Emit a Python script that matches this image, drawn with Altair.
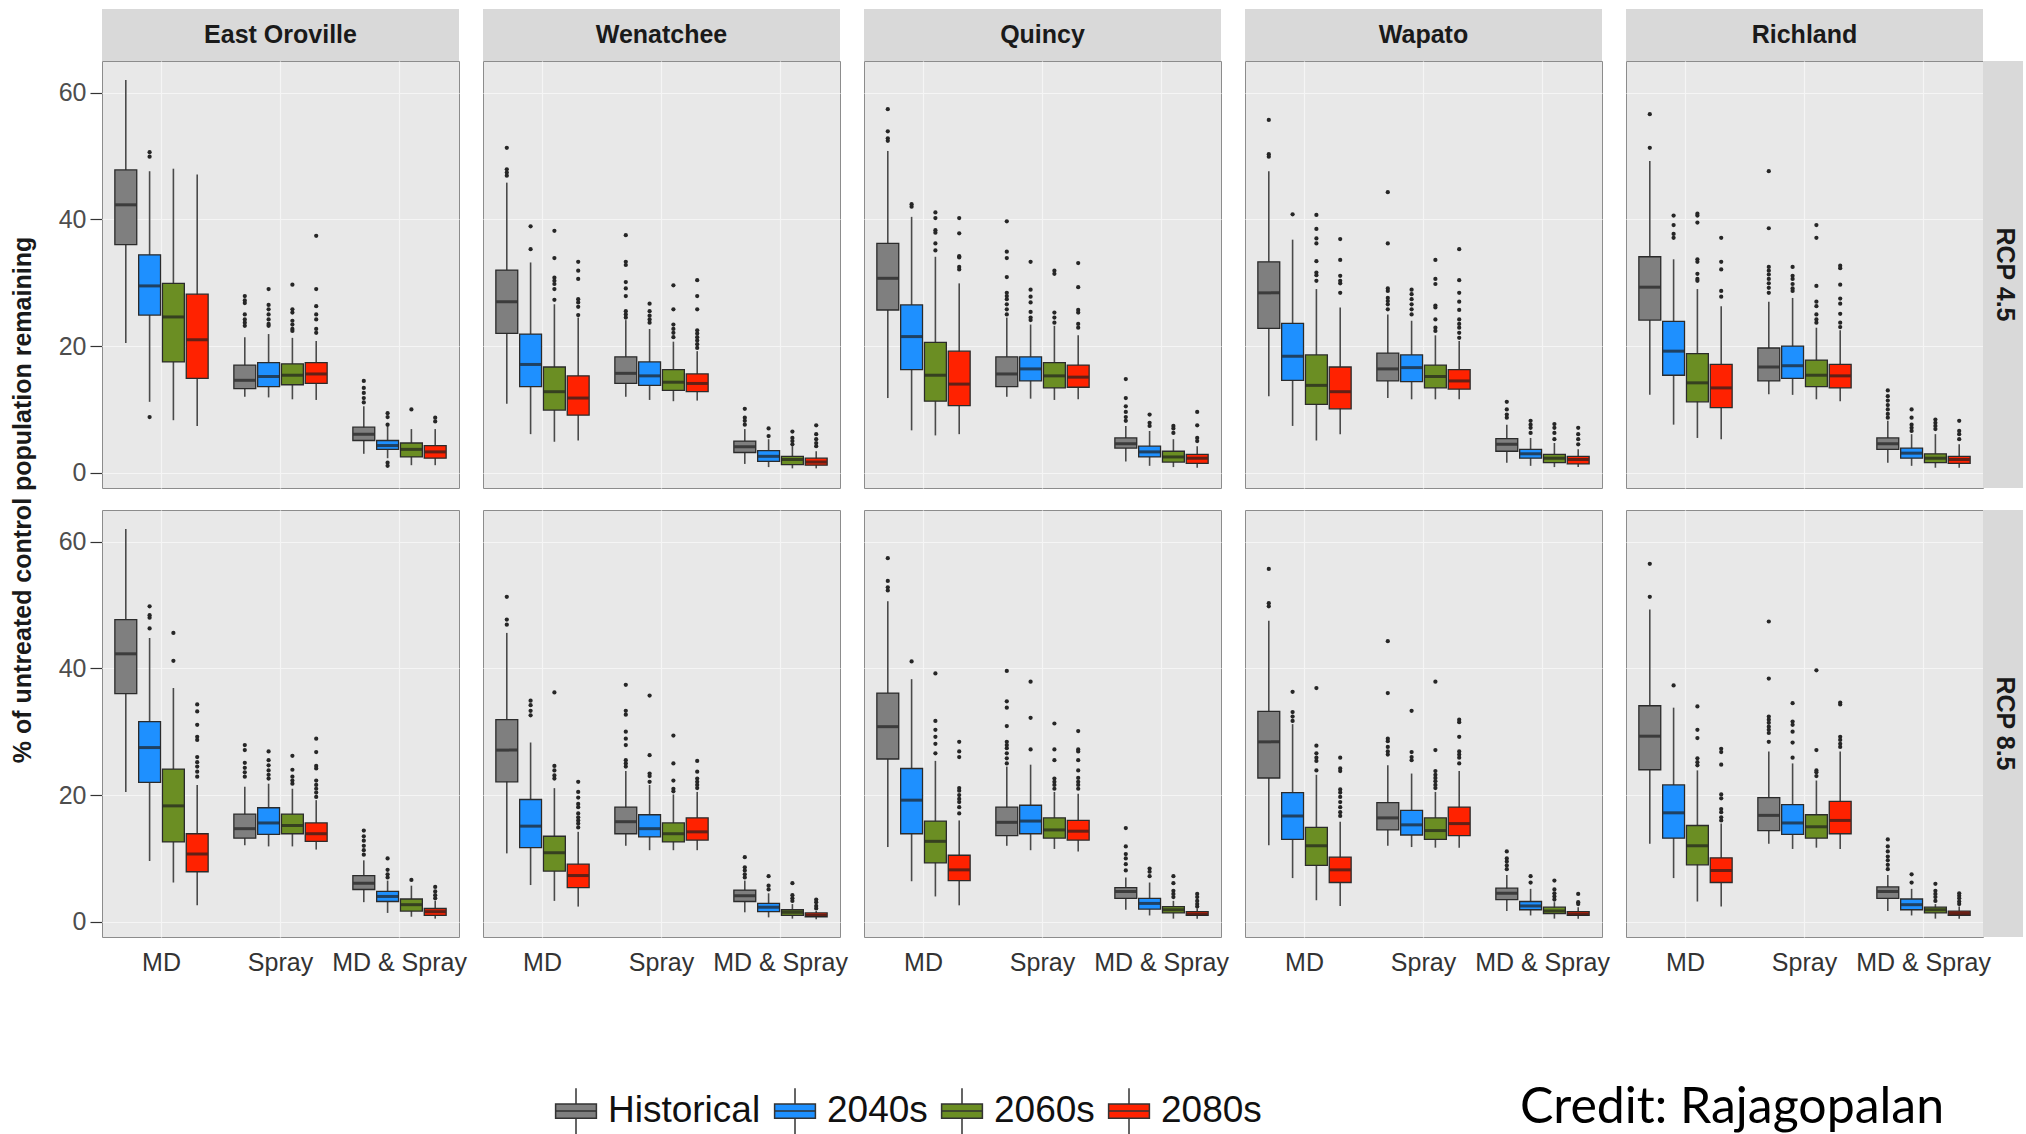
import altair as alt
import pandas as pd

SITES = ["East Oroville", "Wenatchee", "Quincy", "Wapato", "Richland"]
SCENARIOS = ["RCP 4.5", "RCP 8.5"]
TREATMENTS = ["MD", "Spray", "MD & Spray"]
PERIODS = ["Historical", "2040s", "2060s", "2080s"]
COLORS = ["#7f7f7f", "#1e90ff", "#6b8e23", "#ff2200"]

# Box statistics, 12 boxes per panel: MD(Hist,2040s,2060s,2080s), Spray(...), MD & Spray(...)
STATS = {
    ("RCP 4.5", "East Oroville"): {
        "lo":  [20.5, 11.2, 8.3, 7.4, 12.0, 11.9, 11.6, 11.5, 3.0, 2.3, 1.2, 1.2],
        "q1":  [36.0, 24.9, 17.5, 14.9, 13.3, 13.6, 13.9, 14.1, 5.1, 3.7, 2.5, 2.3],
        "med": [42.3, 29.5, 24.6, 21.0, 14.6, 15.2, 15.4, 15.6, 6.1, 4.3, 3.7, 3.3],
        "q3":  [47.8, 34.4, 29.9, 28.2, 17.0, 17.4, 17.2, 17.4, 7.2, 5.1, 4.7, 4.3],
        "hi":  [62.0, 47.6, 48.0, 47.1, 21.4, 21.9, 21.3, 20.8, 10.5, 7.4, 6.9, 6.9],
    },
    ("RCP 4.5", "Wenatchee"): {
        "lo":  [10.9, 6.1, 4.9, 5.1, 12.0, 11.5, 11.3, 11.4, 1.4, 0.9, 0.7, 0.7],
        "q1":  [22.0, 13.6, 9.9, 9.1, 14.1, 13.8, 13.0, 12.8, 3.2, 1.8, 1.3, 1.2],
        "med": [27.0, 17.1, 12.8, 11.8, 15.7, 15.3, 14.3, 14.1, 4.1, 2.6, 2.1, 1.7],
        "q3":  [32.0, 21.9, 16.7, 15.3, 18.3, 17.5, 16.3, 15.6, 5.0, 3.5, 2.6, 2.3],
        "hi":  [45.8, 33.2, 26.6, 24.5, 24.1, 22.7, 20.7, 19.2, 6.9, 5.3, 4.2, 3.4],
    },
    ("RCP 4.5", "Quincy"): {
        "lo":  [11.8, 6.7, 5.9, 6.1, 12.0, 11.7, 11.5, 11.6, 1.8, 1.1, 0.9, 0.8],
        "q1":  [25.7, 16.3, 11.3, 10.6, 13.6, 14.5, 13.4, 13.5, 3.9, 2.5, 1.7, 1.5],
        "med": [30.7, 21.5, 15.4, 14.0, 15.6, 16.4, 15.3, 15.1, 4.6, 3.3, 2.5, 2.3],
        "q3":  [36.2, 26.5, 20.6, 19.2, 18.3, 18.3, 17.4, 17.0, 5.5, 4.2, 3.4, 2.9],
        "hi":  [50.8, 40.4, 34.1, 29.9, 24.5, 23.4, 23.2, 21.7, 7.4, 6.6, 5.3, 4.2],
    },
    ("RCP 4.5", "Wapato"): {
        "lo":  [12.1, 7.4, 5.1, 6.1, 11.8, 11.6, 11.6, 11.6, 1.6, 1.1, 0.9, 0.9],
        "q1":  [22.8, 14.6, 10.8, 10.1, 14.5, 14.4, 13.4, 13.2, 3.4, 2.3, 1.6, 1.4],
        "med": [28.4, 18.4, 13.8, 12.8, 16.4, 16.6, 15.2, 14.5, 4.5, 3.0, 2.3, 2.1],
        "q3":  [33.3, 23.6, 18.6, 16.7, 18.9, 18.6, 17.0, 16.3, 5.4, 3.7, 2.9, 2.6],
        "hi":  [47.6, 36.8, 29.0, 26.1, 25.0, 24.0, 21.7, 20.8, 7.6, 5.5, 4.7, 3.7],
    },
    ("RCP 4.5", "Richland"): {
        "lo":  [12.3, 7.6, 5.5, 5.3, 12.4, 12.3, 11.6, 11.3, 1.6, 1.1, 0.8, 0.8],
        "q1":  [24.1, 15.4, 11.2, 10.3, 14.5, 14.9, 13.6, 13.4, 3.7, 2.3, 1.6, 1.5],
        "med": [29.3, 19.2, 14.2, 13.4, 16.7, 16.9, 15.4, 15.3, 4.6, 3.1, 2.3, 2.1],
        "q3":  [34.1, 23.9, 18.8, 17.1, 19.7, 20.0, 17.8, 17.1, 5.5, 3.9, 3.0, 2.6],
        "hi":  [49.2, 33.7, 29.0, 26.3, 27.0, 27.6, 22.9, 22.5, 8.2, 6.1, 6.1, 4.5],
    },
    ("RCP 8.5", "East Oroville"): {
        "lo":  [20.5, 9.6, 6.2, 2.6, 12.1, 11.9, 11.9, 11.4, 3.1, 1.4, 0.8, 0.5],
        "q1":  [36.0, 22.0, 12.6, 7.9, 13.2, 13.8, 13.9, 12.7, 5.1, 3.2, 1.7, 1.0],
        "med": [42.3, 27.5, 18.3, 10.7, 14.7, 15.6, 15.2, 13.9, 6.1, 4.0, 2.7, 1.6],
        "q3":  [47.7, 31.6, 24.1, 13.9, 17.0, 18.0, 17.0, 15.6, 7.3, 4.8, 3.6, 2.1],
        "hi":  [62.0, 44.8, 36.9, 21.6, 21.3, 21.8, 21.0, 19.2, 9.7, 6.5, 5.7, 3.3],
    },
    ("RCP 8.5", "Wenatchee"): {
        "lo":  [10.8, 5.8, 3.3, 2.4, 12.0, 11.3, 11.3, 11.3, 1.5, 0.7, 0.5, 0.4],
        "q1":  [22.1, 11.7, 8.0, 5.4, 13.9, 13.4, 12.6, 12.9, 3.2, 1.6, 1.0, 0.8],
        "med": [27.1, 15.1, 10.9, 7.3, 15.8, 14.7, 13.9, 14.2, 4.1, 2.3, 1.5, 1.0],
        "q3":  [31.9, 19.3, 13.5, 9.1, 18.1, 16.9, 15.6, 16.4, 5.0, 2.9, 1.9, 1.4],
        "hi":  [45.6, 28.3, 21.1, 14.2, 23.8, 21.6, 20.1, 20.5, 6.5, 4.5, 2.8, 1.7],
    },
    ("RCP 8.5", "Quincy"): {
        "lo":  [11.8, 6.4, 4.0, 2.6, 12.0, 11.3, 11.5, 11.1, 1.9, 1.0, 0.5, 0.5],
        "q1":  [25.7, 13.9, 9.3, 6.5, 13.6, 13.9, 13.2, 12.9, 3.7, 2.0, 1.4, 1.0],
        "med": [30.8, 19.2, 12.7, 8.2, 15.7, 15.9, 14.5, 14.3, 4.8, 2.9, 1.9, 1.2],
        "q3":  [36.1, 24.2, 15.9, 10.5, 18.1, 18.4, 16.4, 16.0, 5.4, 3.7, 2.4, 1.6],
        "hi":  [50.6, 38.3, 25.4, 16.0, 24.5, 24.8, 20.5, 20.2, 7.0, 6.2, 3.3, 2.1],
    },
    ("RCP 8.5", "Wapato"): {
        "lo":  [12.1, 6.9, 3.4, 2.5, 12.0, 11.8, 11.7, 11.7, 1.7, 1.0, 0.5, 0.5],
        "q1":  [22.7, 13.0, 8.9, 6.2, 14.5, 13.7, 13.0, 13.6, 3.5, 1.9, 1.3, 1.0],
        "med": [28.4, 16.7, 12.0, 8.2, 16.4, 15.3, 14.4, 15.5, 4.5, 2.5, 1.7, 1.2],
        "q3":  [33.2, 20.4, 14.9, 10.2, 18.8, 17.6, 16.4, 18.1, 5.3, 3.2, 2.3, 1.6],
        "hi":  [47.5, 31.2, 23.2, 15.8, 24.7, 23.4, 20.5, 23.8, 7.4, 5.2, 3.1, 2.3],
    },
    ("RCP 8.5", "Richland"): {
        "lo":  [12.3, 6.9, 3.2, 2.4, 12.3, 11.5, 11.7, 11.5, 1.7, 1.0, 0.5, 0.5],
        "q1":  [24.0, 13.2, 9.0, 6.2, 14.4, 13.8, 13.2, 13.9, 3.7, 1.9, 1.4, 1.0],
        "med": [29.3, 17.2, 12.0, 8.1, 16.8, 15.6, 15.0, 16.0, 4.8, 2.7, 1.9, 1.3],
        "q3":  [34.1, 21.6, 15.2, 10.1, 19.6, 18.5, 16.9, 19.0, 5.5, 3.6, 2.3, 1.7],
        "hi":  [49.3, 33.8, 23.9, 15.5, 26.9, 25.0, 22.3, 26.9, 7.4, 5.2, 2.8, 2.4],
    },
}

OUTLIERS = {
    ("RCP 4.5", "East Oroville"): [
        [], [50.6, 49.9, 8.8], [], [],
        [27.9, 27.2, 26.8, 25.0, 24.2, 23.7, 23.2],
        [29.0, 26.5, 25.8, 25.0, 24.2, 23.5, 23.2],
        [29.7, 25.8, 25.3, 24.0, 23.4, 22.7, 22.4],
        [37.4, 29.0, 26.3, 25.0, 24.2, 22.7, 22.1],
        [14.5, 13.4, 12.6, 11.8, 11.1], [9.4, 8.8, 7.6, 1.6, 1.1], [10.0], [8.7, 8.1],
    ],
    ("RCP 4.5", "Wenatchee"): [
        [51.3, 47.9, 47.4, 46.9], [38.9, 35.3],
        [38.2, 33.9, 30.8, 30.3, 29.8, 29.0, 27.3],
        [33.3, 31.9, 30.6, 27.4, 26.9, 26.2, 24.9],
        [37.5, 33.3, 32.8, 30.1, 29.1, 27.9, 25.5, 25.0, 24.5],
        [26.7, 25.5, 24.8, 24.2, 23.7],
        [29.6, 25.8, 23.4, 22.7, 22.1, 21.4],
        [30.4, 27.9, 25.8, 22.5, 22.0, 21.4, 20.9, 20.3, 19.7],
        [10.1, 8.7, 8.2, 7.6], [7.0, 5.8], [6.5, 5.5, 5.0, 4.5], [7.5, 6.1, 5.3, 4.7, 4.2],
    ],
    ("RCP 4.5", "Quincy"): [
        [57.4, 53.9, 52.8, 52.4], [42.4, 42.0],
        [41.1, 40.2, 38.3, 37.9, 36.2, 35.1],
        [40.2, 37.8, 34.2, 34.0, 32.5, 32.1],
        [39.7, 34.9, 33.9, 30.9, 28.4, 27.9, 27.4, 26.6, 25.8, 25.0],
        [33.3, 28.9, 27.8, 26.9, 25.4, 24.5, 24.1],
        [31.9, 31.4, 25.3, 24.5, 23.7],
        [33.1, 29.3, 25.7, 25.3, 23.5, 22.9],
        [14.8, 11.8, 10.5, 9.6, 8.8, 8.2], [9.2, 7.9, 7.4], [7.4, 7.0, 6.3], [9.6, 7.5, 5.5, 5.0],
    ],
    ("RCP 4.5", "Wapato"): [
        [55.7, 50.3, 49.9], [40.8],
        [40.7, 38.5, 37.0, 36.2, 33.4, 31.6, 31.2, 30.3],
        [36.9, 33.6, 31.1, 30.3, 29.9, 28.4],
        [44.3, 36.2, 29.1, 28.7, 27.6, 27.1, 26.6, 25.8],
        [28.9, 28.2, 27.4, 26.6, 25.8, 25.0],
        [33.6, 30.6, 29.8, 26.4, 26.1, 24.2, 22.9, 22.4],
        [35.3, 30.4, 28.4, 27.0, 25.7, 24.2, 23.5, 22.9, 22.1, 21.3],
        [11.2, 10.0, 9.2, 8.7], [8.2, 7.6, 7.1, 6.3], [7.7, 7.1, 6.3, 5.3], [7.1, 6.1, 5.3, 4.5],
    ],
    ("RCP 4.5", "Richland"): [
        [56.6, 51.3], [40.6, 39.1, 37.7, 37.1],
        [40.9, 40.6, 39.5, 33.7, 33.3, 31.4, 30.6, 30.3],
        [37.1, 33.3, 32.1, 28.7, 27.8],
        [47.6, 38.6, 32.5, 31.9, 31.3, 30.6, 29.9, 29.2, 28.4],
        [32.5, 31.1, 30.6, 29.8, 29.1, 28.7],
        [39.1, 37.1, 29.5, 27.0, 26.3, 25.0, 24.2, 23.7],
        [32.7, 32.3, 29.7, 27.5, 26.7, 25.1, 23.7, 23.0],
        [13.0, 12.1, 11.4, 10.7, 10.0, 9.3, 8.7], [10.0, 8.7, 7.6, 7.1, 6.6],
        [8.4, 7.9, 7.4, 6.9], [8.2, 6.6, 6.1, 5.3],
    ],
    ("RCP 8.5", "East Oroville"): [
        [], [49.8, 48.4, 48.0, 46.3], [45.6, 41.2],
        [34.3, 33.2, 31.1, 29.2, 28.7, 26.0, 25.2, 24.5, 23.7, 22.9],
        [27.9, 27.1, 25.1, 24.3, 23.6, 22.9],
        [26.9, 25.5, 24.7, 23.9, 23.2, 22.6],
        [26.2, 24.0, 22.9, 22.3, 21.8],
        [28.9, 26.8, 24.6, 24.2, 22.3, 21.6, 21.0, 20.4, 19.7],
        [14.4, 13.5, 12.8, 12.0, 11.3, 10.6], [10.0, 8.2, 7.5, 7.0], [6.6], [5.5, 4.8, 4.2, 3.7],
    ],
    ("RCP 8.5", "Wenatchee"): [
        [51.3, 47.7, 46.9], [34.9, 34.2, 33.3, 32.6],
        [36.2, 24.6, 23.9, 23.1, 22.6],
        [22.1, 20.5, 19.6, 18.6, 18.1, 17.1, 16.5, 16.0, 15.5, 14.9],
        [37.4, 33.3, 32.7, 30.0, 28.9, 27.9, 25.5, 25.0, 24.5],
        [35.7, 26.3, 23.4, 23.0, 22.1],
        [29.4, 25.0, 22.3, 21.0, 20.6],
        [25.4, 23.7, 22.6, 22.1, 21.6, 21.1],
        [10.2, 8.6, 8.1, 7.5, 7.0], [7.2, 5.7, 5.1], [6.1, 4.2, 3.7, 3.3], [3.5, 3.1, 2.5, 2.1],
    ],
    ("RCP 8.5", "Quincy"): [
        [57.4, 53.8, 52.8, 52.3], [41.1],
        [39.2, 31.7, 30.3, 29.2, 28.1, 26.6],
        [28.4, 26.9, 26.0, 21.1, 20.7, 20.0, 19.4, 18.9, 18.1, 17.1],
        [39.6, 34.8, 33.8, 30.9, 28.4, 27.9, 27.4, 26.6, 25.8, 25.0],
        [37.9, 32.2, 27.2],
        [31.3, 27.2, 25.5, 22.6, 22.1, 21.6, 21.0],
        [30.1, 27.2, 26.9, 25.5, 23.9, 22.7, 22.1, 21.6, 21.0],
        [14.8, 11.9, 10.7, 10.0, 9.1, 8.1], [8.4, 7.9, 7.2], [7.2, 6.1, 4.9, 4.4, 3.9],
        [4.4, 3.9, 3.3, 2.8, 2.4],
    ],
    ("RCP 8.5", "Wapato"): [
        [55.7, 50.3, 49.8], [36.3, 33.1, 32.4, 31.7],
        [36.9, 27.8, 26.6, 25.9, 25.4, 23.9],
        [25.9, 24.2, 23.8, 20.9, 20.4, 19.7, 18.9, 18.1, 17.3, 16.7],
        [44.3, 36.1, 28.9, 28.5, 27.6, 26.9, 26.4],
        [33.3, 26.8, 26.0, 25.5],
        [37.9, 27.1, 23.8, 23.2, 22.7, 22.2, 21.6, 21.1],
        [31.9, 31.5, 29.2, 26.9, 26.4, 25.9, 25.0],
        [11.1, 10.0, 9.5, 8.9, 8.3], [7.2, 6.2], [6.5, 5.1, 4.5, 4.0, 3.5], [4.4, 3.1, 2.8],
    ],
    ("RCP 8.5", "Richland"): [
        [56.5, 51.3], [37.3],
        [34.0, 30.3, 29.0, 25.8, 25.2, 24.7],
        [27.3, 26.8, 24.8, 20.1, 19.5, 17.8, 17.3, 16.5, 16.0],
        [47.4, 38.4, 32.4, 31.9, 31.4, 30.8, 30.3, 29.8, 28.4],
        [34.5, 31.6, 31.1, 30.0, 28.3, 25.9],
        [39.7, 27.1, 23.9, 23.6, 23.0],
        [34.6, 34.3, 29.2, 28.7, 28.1, 27.6],
        [13.0, 11.9, 11.1, 10.3, 9.7, 9.0, 8.3], [7.5, 6.2], [6.0, 4.9, 4.4, 3.9, 3.3],
        [4.5, 4.1, 3.7, 3.2, 2.8],
    ],
}

Y_TITLE = "% of untreated control population remaining"
CREDIT = "Credit: Rajagopalan"

rows = []
for (scn, site), st in STATS.items():
    for i in range(12):
        t = TREATMENTS[i // 4]
        p = PERIODS[i % 4]
        rows.append(dict(scenario=scn, site=site, treatment=t, period=p, kind="box",
                         lo=st["lo"][i], q1=st["q1"][i], med=st["med"][i],
                         q3=st["q3"][i], hi=st["hi"][i]))
        for v in OUTLIERS[(scn, site)][i]:
            rows.append(dict(scenario=scn, site=site, treatment=t, period=p, kind="out", val=v))
df = pd.DataFrame(rows)

W, H = 357, 427
STRIP = 52
RSTRIP = 40
PANEL_BG = "#e8e8e8"

yscale = alt.Scale(domain=[-2.4, 65], nice=False, zero=False)
y_axis = alt.Axis(title=None, values=[0, 20, 40, 60], labelFontSize=25, labelColor="#4d4d4d",
                  tickSize=12, tickColor="#333333", tickWidth=1.2, domain=False, grid=True,
                  gridColor="#f5f5f5", gridWidth=1.2, labelPadding=4)
x_enc = alt.X("treatment:N", sort=TREATMENTS,
              scale=alt.Scale(domain=TREATMENTS, paddingInner=0.2, paddingOuter=0.1),
              axis=alt.Axis(title=None, labelAngle=0, labelFontSize=25, labelColor="#333333",
                            ticks=False, domain=False, grid=True, gridColor="#f5f5f5",
                            gridWidth=1.2, labelPadding=13))
xo_enc = alt.XOffset("period:N", sort=PERIODS,
                     scale=alt.Scale(domain=PERIODS, paddingInner=0.08, paddingOuter=0.04))

PATH = ("M0,-0.95L0,-0.3M-0.85,-0.3L0.85,-0.3L0.85,0.3L-0.85,0.3Z"
        "M-0.85,0L0.85,0M0,0.3L0,0.95")

color_enc = alt.Color("period:N", sort=PERIODS,
                      scale=alt.Scale(domain=PERIODS, range=COLORS),
                      legend=alt.Legend(title=None, orient="none", legendX=449, legendY=1025,
                                        direction="horizontal", symbolType=PATH, symbolSize=2304,
                                        symbolStrokeColor="#333333", symbolStrokeWidth=1.5,
                                        labelFontSize=37, labelColor="#111111",
                                        labelFont="Liberation Sans", columnPadding=9,
                                        labelOffset=7, symbolOpacity=1))

boxes = alt.Chart().transform_filter("datum.kind === 'box'")

whisker = boxes.mark_rule(color="#4a4a4a", strokeWidth=1.6).encode(
    x=x_enc, xOffset=xo_enc,
    y=alt.Y("lo:Q", scale=yscale, axis=y_axis), y2="hi:Q")

box = boxes.mark_bar(stroke="#2b2b2b", strokeWidth=1.3).encode(
    x=x_enc, xOffset=xo_enc,
    y=alt.Y("q1:Q", scale=yscale, axis=y_axis), y2="q3:Q",
    color=color_enc)

median = boxes.mark_tick(color="#1f1f1f", thickness=3, size=21).encode(
    x=x_enc, xOffset=xo_enc, y=alt.Y("med:Q", scale=yscale, axis=y_axis))

outl = alt.Chart().transform_filter("datum.kind === 'out'").mark_circle(
    size=18, color="#262626", opacity=1).encode(
    x=x_enc, xOffset=xo_enc, y=alt.Y("val:Q", scale=yscale, axis=y_axis))

top_base = alt.Chart().transform_filter("datum.scenario === 'RCP 4.5'").transform_aggregate(
    n="count()", groupby=["scenario", "site"])
top_rect = top_base.mark_rect(color="#d9d9d9").encode(
    x=alt.value(0), x2=alt.value(W), y=alt.value(-STRIP), y2=alt.value(0))
top_text = top_base.mark_text(fontSize=25, fontWeight="bold", color="#1a1a1a",
                              font="Liberation Sans", baseline="middle").encode(
    x=alt.value(W / 2), y=alt.value(-STRIP / 2), text="site:N")

right_base = alt.Chart().transform_filter("datum.site === 'Richland'").transform_aggregate(
    n="count()", groupby=["scenario", "site"])
right_rect = right_base.mark_rect(color="#d9d9d9").encode(
    x=alt.value(W), x2=alt.value(W + RSTRIP), y=alt.value(0), y2=alt.value(H))
right_text = right_base.mark_text(fontSize=25, fontWeight="bold", color="#1a1a1a",
                                  font="Liberation Sans", angle=90, baseline="middle").encode(
    x=alt.value(W + RSTRIP / 2 + 2), y=alt.value(H / 2), text="scenario:N")

ytitle = alt.Chart().transform_filter(
    "datum.scenario === 'RCP 4.5' && datum.site === 'East Oroville'").transform_aggregate(
    n="count()", groupby=["scenario", "site"]).mark_text(
    angle=270, align="center", baseline="middle", fontSize=25, fontWeight="bold",
    color="#1a1a1a", font="Liberation Sans").encode(
    x=alt.value(-79), y=alt.value(439), text=alt.value(Y_TITLE))

credit = alt.Chart().transform_filter(
    "datum.scenario === 'RCP 8.5' && datum.site === 'Richland'").transform_aggregate(
    n="count()", groupby=["scenario", "site"]).mark_text(
    align="left", baseline="alphabetic", fontSize=50, font="Lato", color="#000000").encode(
    x=alt.value(-106), y=alt.value(613), text=alt.value(CREDIT))

layered = alt.layer(whisker, box, median, outl, top_rect, top_text, right_rect, right_text,
                    ytitle, credit, data=df).properties(
    width=W, height=H,
    view=alt.ViewBackground(fill=PANEL_BG, stroke="#8c8c8c", strokeWidth=1))

chart = layered.facet(
    row=alt.Row("scenario:N", sort=SCENARIOS, title=None,
                header=alt.Header(labels=False)),
    column=alt.Column("site:N", sort=SITES, title=None,
                      header=alt.Header(labels=False)),
    spacing={"row": 22, "column": 24},
    bounds="flush",
).properties(
    padding={"left": 10, "top": 8, "right": 0, "bottom": 0},
    background="white",
).configure_view(
    fill=PANEL_BG, stroke="#8c8c8c", strokeWidth=1
).configure(font="Liberation Sans")

chart.save("out.html", embed_options={"renderer": "svg", "actions": False})
